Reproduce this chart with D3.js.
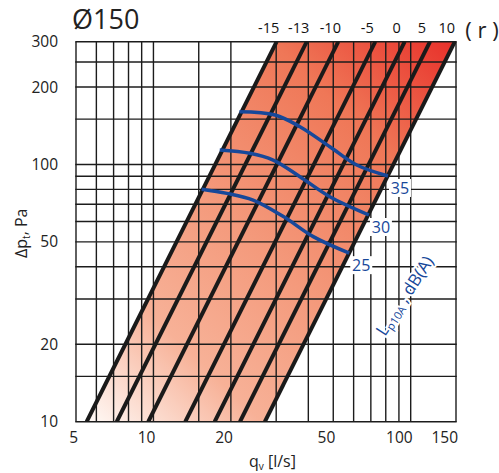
<!DOCTYPE html>
<meta charset="utf-8">
<title>Ø150 pressure drop chart</title>
<style>
body { margin: 0; background: #fff; }
svg { display: block; font-family: "Open Sans", sans-serif; }
.grid line { stroke: #1c1c1c; stroke-width: 1.4; }
.tick { font-size: 15.5px; fill: #222; }
.rlab { font-size: 14.5px; fill: #111; }
.blue { fill: #17489a; }
</style>
<body>
<div id="chart"></div>
<script src="https://cdn.jsdelivr.net/npm/d3@7/dist/d3.min.js"></script>
<script>

// axis ticks and grid values
var qTicks = [5, 10, 20, 50, 100, 150];
var dpTicks = [10, 20, 50, 100, 200, 300];
var qGrid = [5, 6, 7, 8, 9, 10, 15, 20, 30, 40, 50, 60, 70, 80, 90, 100, 150];
var dpGrid = [10, 15, 20, 30, 40, 50, 60, 70, 80, 90, 100, 150, 200, 250, 300];

// damper setting lines (r), given as flow at 10 Pa; dp grows with q^2
var rLabels = [-15, -13, -10, -5, 0, 5, 10];
var rFlowAt10 = [5.5, 7.2, 9.55, 13.3, 17.3, 21.7, 27.1];

// sound level curves Lp10A, dB(A)  [q l/s, dp Pa]
var soundLabels = [25, 30, 35];
var sound25 = [[15.4, 80.1], [19.3, 77.2], [24.4, 72.7], [32, 62.7], [41.8, 52.4], [57.7, 45.2]];
var sound30 = [[18.1, 113.8], [23.7, 110.5], [29.2, 104], [37.1, 89.6], [48.5, 74.9], [68.8, 63.6]];
var sound35 = [[21.6, 160.3], [29.7, 155.7], [37.1, 140.2], [48.5, 117.2], [61.7, 99.5], [81.6, 90.2]];
var soundCurves = [sound25, sound30, sound35];

var width = 499, height = 473;

var svg = d3.select("#chart").append("svg")
    .attr("width", width)
    .attr("height", height);

var x = d3.scaleLog().domain([5, 150]).range([76, 456]);
var y = d3.scaleLog().domain([10, 300]).range([421.7, 41.7]);

var dpMin = 10, dpMax = 300;
var topFactor = Math.sqrt(dpMax / dpMin);

// red band between the outer setting lines
var qLeft = rFlowAt10[0], qRight = rFlowAt10[rFlowAt10.length - 1];

var defs = svg.append("defs");
var grad = defs.append("linearGradient")
    .attr("id", "band")
    .attr("gradientUnits", "userSpaceOnUse")
    .attr("x1", x(qLeft)).attr("y1", y(dpMin))
    .attr("x2", x(qRight * topFactor)).attr("y2", y(dpMax));
[[0, "#fffaf7"], [0.23, "#f7b197"], [0.46, "#f49a7c"], [0.76, "#ef7757"], [1, "#e8302a"]]
  .forEach(function(s) {
    grad.append("stop").attr("offset", s[0]).attr("stop-color", s[1]);
  });

defs.append("clipPath").attr("id", "plot")
  .append("rect")
    .attr("x", x(5)).attr("y", y(300))
    .attr("width", x(150) - x(5)).attr("height", y(10) - y(300));

var band = [[qLeft, dpMin], [qLeft * topFactor, dpMax], [qRight * topFactor, dpMax], [qRight, dpMin]];
svg.append("path")
    .attr("d", d3.line().x(function(d) { return x(d[0]); }).y(function(d) { return y(d[1]); })(band) + "Z")
    .attr("fill", "url(#band)");

// grid
var grid = svg.append("g").attr("class", "grid");
grid.selectAll(".v").data(qGrid).enter().append("line")
    .attr("x1", x).attr("x2", x)
    .attr("y1", y(300)).attr("y2", y(10));
grid.selectAll(".h").data(dpGrid).enter().append("line")
    .attr("y1", y).attr("y2", y)
    .attr("x1", x(5) - 0.7).attr("x2", x(150) + 0.7);

// setting lines
svg.append("g").attr("clip-path", "url(#plot)")
  .selectAll("line").data(rFlowAt10).enter().append("line")
    .attr("x1", function(q) { return x(q); })
    .attr("y1", y(dpMin))
    .attr("x2", function(q) { return x(q * topFactor); })
    .attr("y2", y(dpMax))
    .attr("stroke", "#1a1a1a")
    .attr("stroke-width", 4);

svg.append("g").selectAll("text").data(rFlowAt10).enter().append("text")
    .attr("class", "rlab")
    .attr("x", function(q) { return x(q * topFactor) - 8; })
    .attr("y", 33)
    .attr("text-anchor", "middle")
    .text(function(d, i) { return rLabels[i]; });

svg.append("text")
    .attr("x", 482).attr("y", 38)
    .attr("text-anchor", "middle")
    .style("font-size", "22px").attr("fill", "#222")
    .text("( r )");

// sound level curves
var curve = d3.line()
    .x(function(d) { return x(d[0]); })
    .y(function(d) { return y(d[1]); })
    .curve(d3.curveCatmullRom);

svg.append("g").selectAll("path").data(soundCurves).enter().append("path")
    .attr("d", curve)
    .attr("fill", "none")
    .attr("stroke", "#17489a")
    .attr("stroke-width", 3.5);

var labs = svg.append("g").selectAll("g").data(soundCurves).enter().append("g")
    .attr("transform", function(d) {
      var e = d[d.length - 1];
      return "translate(" + (x(e[0]) + 12) + "," + (y(e[1]) + 12) + ")";
    });
labs.append("rect")
    .attr("x", -11).attr("y", -9).attr("width", 22).attr("height", 18)
    .attr("fill", "#fff");
labs.append("text")
    .attr("class", "blue")
    .attr("text-anchor", "middle")
    .attr("dy", "0.36em")
    .style("font-size", "16px")
    .text(function(d, i) { return soundLabels[i]; });

var lp = svg.append("text")
    .attr("class", "blue")
    .attr("transform", "translate(385,337) rotate(-57)")
    .style("font-size", "17px")
    .attr("stroke", "#fff").attr("stroke-width", 4)
    .attr("paint-order", "stroke");
lp.append("tspan").text("L");
lp.append("tspan").attr("dy", 3).style("font-size", "11px").text("p10A");
lp.append("tspan").attr("dy", -3).text(" , dB(A)");

// axis tick labels
svg.append("g").selectAll("text").data(qTicks).enter().append("text")
    .attr("class", "tick")
    .attr("x", function(d) { return x(d) + 2; })
    .attr("y", 443)
    .attr("text-anchor", "end")
    .text(function(d) { return d; });

svg.append("g").selectAll("text").data(dpTicks).enter().append("text")
    .attr("class", "tick")
    .attr("x", 58)
    .attr("y", function(d) { return y(d); })
    .attr("dy", "0.36em")
    .attr("text-anchor", "end")
    .text(function(d) { return d; });

// titles
svg.append("text")
    .attr("x", 72).attr("y", 29)
    .style("font-size", "27px").attr("fill", "#222")
    .text("Ø150");

var xl = svg.append("text")
    .attr("x", 249).attr("y", 467)
    .style("font-size", "16px").attr("fill", "#222");
xl.append("tspan").text("q");
xl.append("tspan").attr("dy", 3).style("font-size", "10px").text("v");
xl.append("tspan").attr("dy", -3).text(" [l/s]");

var yl = svg.append("text")
    .attr("transform", "translate(27,258) rotate(-90)")
    .style("font-size", "16px").attr("fill", "#222");
yl.append("tspan").text("Δp");
yl.append("tspan").attr("dy", 3).style("font-size", "10px").text("t");
yl.append("tspan").attr("dy", -3).text(",  Pa");

</script>
</body>
